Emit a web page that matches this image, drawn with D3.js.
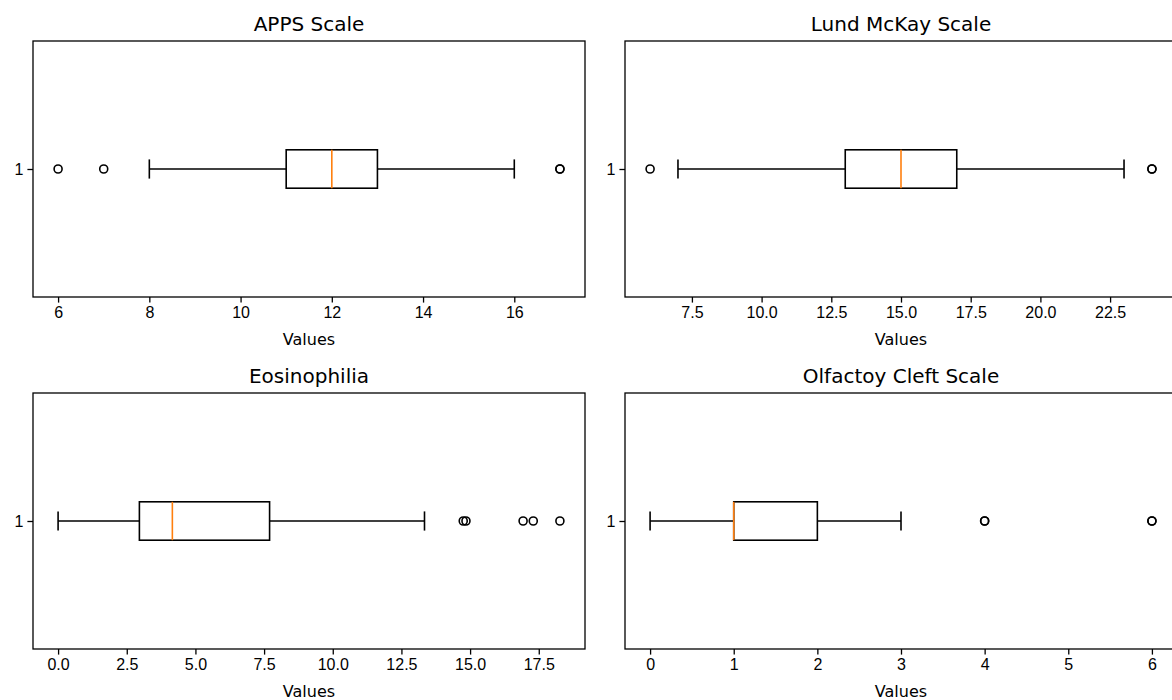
<!DOCTYPE html>
<html>
<head>
<meta charset="utf-8">
<script src="https://cdn.jsdelivr.net/npm/d3@7"></script>
<style>
  body { margin: 0; background: #fff; }
  svg { display: block; font-family: "DejaVu Sans", sans-serif; }
</style>
</head>
<body>
<div id="chart"></div>
<script>
// one entry per panel
const titles = ["APPS Scale", "Lund McKay Scale", "Eosinophilia", "Olfactoy Cleft Scale"];
const q1 = [11, 13, 2.96, 1];
const medians = [12, 15, 4.16, 1];
const q3 = [13, 17, 7.7, 2];
const whiskerLow = [8, 7, 0, 0];
const whiskerHigh = [16, 23, 13.34, 3];
const outliers = [
  [6, 7, 17, 17],
  [6, 24, 24],
  [14.75, 14.85, 16.93, 17.3, 18.27],
  [4, 4, 6, 6]
];
const tickValues = [
  [6, 8, 10, 12, 14, 16],
  [7.5, 10, 12.5, 15, 17.5, 20, 22.5],
  [0, 2.5, 5, 7.5, 10, 12.5, 15, 17.5],
  [0, 1, 2, 3, 4, 5, 6]
];
const tickFormats = ["d", ".1f", ".1f", "d"];

const W = 1172, H = 700;
const panelW = 552, panelH = 256;
const lefts = [33, 625, 33, 625];
const tops = [41, 41, 393, 393];

const svg = d3.select("#chart").append("svg")
  .attr("width", W).attr("height", H);

titles.forEach((title, i) => {
  const all = [whiskerLow[i], whiskerHigh[i], ...outliers[i]];
  const lo = d3.min(all), hi = d3.max(all);
  const pad = (hi - lo) * 0.05;

  const x = d3.scaleLinear().domain([lo - pad, hi + pad]).range([0, panelW]);
  const y = d3.scaleLinear().domain([0.5, 1.5]).range([panelH, 0]);

  const g = svg.append("g").attr("transform", `translate(${lefts[i]},${tops[i]})`);

  const xAxis = g.append("g")
    .attr("transform", `translate(0,${panelH})`)
    .call(d3.axisBottom(x).tickValues(tickValues[i]).tickFormat(d3.format(tickFormats[i]))
      .tickSize(5.6).tickPadding(4));
  const yAxis = g.append("g")
    .call(d3.axisLeft(y).tickValues([1]).tickFormat(d3.format("d")).tickSize(5.6).tickPadding(4));

  [xAxis, yAxis].forEach(a => {
    a.select(".domain").remove();
    a.selectAll(".tick line").attr("stroke", "#000").attr("stroke-width", 1.3);
    a.selectAll(".tick text").attr("fill", "#000").style("font-size", "16px");
  });

  const bw = y(1) - y(1.075);   // half box height (width 0.15)
  const cy = y(1);

  // whiskers
  g.selectAll(".whisker")
    .data([[whiskerLow[i], q1[i]], [q3[i], whiskerHigh[i]]])
    .join("line")
    .attr("x1", d => x(d[0])).attr("x2", d => x(d[1]))
    .attr("y1", cy).attr("y2", cy)
    .attr("stroke", "#000").attr("stroke-width", 1.6);

  // caps
  g.selectAll(".cap")
    .data([whiskerLow[i], whiskerHigh[i]])
    .join("line")
    .attr("x1", d => x(d)).attr("x2", d => x(d))
    .attr("y1", cy - bw / 2).attr("y2", cy + bw / 2)
    .attr("stroke", "#000").attr("stroke-width", 1.6);

  // box
  g.append("rect")
    .attr("x", x(q1[i])).attr("width", x(q3[i]) - x(q1[i]))
    .attr("y", cy - bw).attr("height", 2 * bw)
    .attr("fill", "none").attr("stroke", "#000").attr("stroke-width", 1.6);

  // median
  g.append("line")
    .attr("x1", x(medians[i])).attr("x2", x(medians[i]))
    .attr("y1", cy - bw).attr("y2", cy + bw)
    .attr("stroke", "#ff7f0e").attr("stroke-width", 1.6);

  // fliers
  g.selectAll(".flier")
    .data(outliers[i])
    .join("circle")
    .attr("cx", d => x(d)).attr("cy", cy).attr("r", 4)
    .attr("fill", "none").attr("stroke", "#000").attr("stroke-width", 1.6);

  // frame
  g.append("rect")
    .attr("width", panelW).attr("height", panelH)
    .attr("fill", "none").attr("stroke", "#000").attr("stroke-width", 1.3);

  g.append("text")
    .attr("x", panelW / 2).attr("y", -10)
    .attr("text-anchor", "middle")
    .style("font-size", "20px")
    .text(title);

  g.append("text")
    .attr("x", panelW / 2).attr("y", panelH + 48)
    .attr("text-anchor", "middle")
    .style("font-size", "16px")
    .text("Values");
});
</script>
</body>
</html>
